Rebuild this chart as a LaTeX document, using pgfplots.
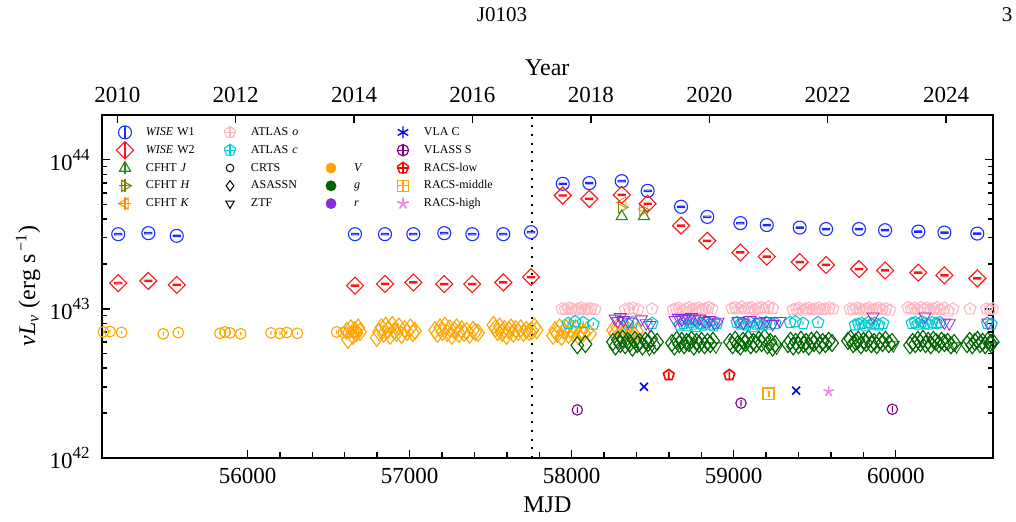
\documentclass[border=0pt]{standalone}
\usepackage{fontspec}
\setmainfont{Liberation Serif}
\usepackage{pgfplots}
\pgfplotsset{compat=1.18}
\usetikzlibrary{plotmarks}

\definecolor{wblue}{RGB}{25,45,255}
\definecolor{wred}{RGB}{255,20,20}
\definecolor{jgreen}{RGB}{30,140,30}
\definecolor{holive}{RGB}{128,128,0}
\definecolor{korange}{RGB}{255,140,0}
\definecolor{opink}{RGB}{255,182,193}
\definecolor{ccyan}{RGB}{0,205,210}
\definecolor{vorange}{RGB}{255,165,0}
\definecolor{gdark}{RGB}{0,100,0}
\definecolor{rpurple}{RGB}{138,43,226}
\definecolor{vlassp}{RGB}{128,0,128}
\definecolor{rviolet}{RGB}{238,130,238}

\newcommand{\pentpath}{%
 \pgfpathmoveto{\pgfpointpolar{90}{\pgfplotmarksize}}%
 \pgfpathlineto{\pgfpointpolar{162}{\pgfplotmarksize}}%
 \pgfpathlineto{\pgfpointpolar{234}{\pgfplotmarksize}}%
 \pgfpathlineto{\pgfpointpolar{306}{\pgfplotmarksize}}%
 \pgfpathlineto{\pgfpointpolar{18}{\pgfplotmarksize}}%
 \pgfpathclose}
\newcommand{\vbar}[1]{%
 \pgfpathmoveto{\pgfqpoint{0pt}{-#1\pgfplotmarksize}}%
 \pgfpathlineto{\pgfqpoint{0pt}{#1\pgfplotmarksize}}}

\pgfdeclareplotmark{wcirc}{%
 \pgfpathcircle{\pgfpointorigin}{\pgfplotmarksize}%
 \pgfpathrectangle{\pgfqpoint{-0.55\pgfplotmarksize}{-0.11\pgfplotmarksize}}{\pgfqpoint{1.1\pgfplotmarksize}{0.22\pgfplotmarksize}}%
 \pgfusepathqstroke}
\pgfdeclareplotmark{wdiam}{%
 \pgfpathmoveto{\pgfqpoint{0pt}{\pgfplotmarksize}}%
 \pgfpathlineto{\pgfqpoint{\pgfplotmarksize}{0pt}}%
 \pgfpathlineto{\pgfqpoint{0pt}{-\pgfplotmarksize}}%
 \pgfpathlineto{\pgfqpoint{-\pgfplotmarksize}{0pt}}%
 \pgfpathclose
 \pgfpathrectangle{\pgfqpoint{-0.42\pgfplotmarksize}{-0.08\pgfplotmarksize}}{\pgfqpoint{0.84\pgfplotmarksize}{0.16\pgfplotmarksize}}%
 \pgfusepathqstroke}
\pgfdeclareplotmark{wdiamo}{%
 \pgfpathmoveto{\pgfqpoint{0pt}{\pgfplotmarksize}}%
 \pgfpathlineto{\pgfqpoint{\pgfplotmarksize}{0pt}}%
 \pgfpathlineto{\pgfqpoint{0pt}{-\pgfplotmarksize}}%
 \pgfpathlineto{\pgfqpoint{-\pgfplotmarksize}{0pt}}%
 \pgfpathclose
 \pgfusepathqstroke}
\pgfdeclareplotmark{circo}{%
 \pgfpathcircle{\pgfpointorigin}{\pgfplotmarksize}%
 \pgfusepathqstroke}
\pgfdeclareplotmark{circdot}{%
 \pgfpathcircle{\pgfpointorigin}{\pgfplotmarksize}\vbar{0.3}%
 \pgfusepathqstroke}
\pgfdeclareplotmark{circv}{%
 \pgfpathcircle{\pgfpointorigin}{\pgfplotmarksize}\vbar{0.6}%
 \pgfusepathqstroke}
\pgfdeclareplotmark{pentp}{\pentpath\vbar{0.3}\pgfusepathqstroke}
\pgfdeclareplotmark{pentv}{\pentpath\vbar{0.6}\pgfusepathqstroke}
\pgfdeclareplotmark{pento}{\pentpath\pgfusepathqstroke}
\pgfdeclareplotmark{squarev}{%
 \pgfpathrectangle{\pgfqpoint{-\pgfplotmarksize}{-\pgfplotmarksize}}{\pgfqpoint{2\pgfplotmarksize}{2\pgfplotmarksize}}%
 \vbar{0.6}\pgfusepathqstroke}

\pgfplotsset{
  legbase/.style={legend image code/.code={%
    \path[draw=none,fill=none] (-5.5pt,-4.45pt) rectangle (5.5pt,4.45pt);
    \draw[overlay,##1] plot coordinates {(0pt,0pt)};}},
  legextra/.style={legend image code/.code={%
    \path[draw=none,fill=none] (-5.5pt,-4.45pt) rectangle (5.5pt,4.45pt);
    \draw[overlay,##1] plot coordinates {(0pt,0pt)};
    \draw[overlay,##1,mark=#1] plot coordinates {(0pt,0pt)};}},
  dat/.style={only marks, forget plot, mark options={solid, line width=0.55pt}},
}

\begin{document}
\begin{tikzpicture}
\useasboundingbox (-50.85pt,-31.5pt) rectangle (457.15pt,229pt);
\node[font=\fontsize{10.5}{12}\selectfont] at (200.15pt,221.5pt) {J0103};
\node[font=\fontsize{10.5}{12}\selectfont] at (452.65pt,221.5pt) {3};

\begin{axis}[
  scale only axis, width=445.65pt, height=171.5pt,
  xmin=55100, xmax=60600, ymode=log, ymin=1e42, ymax=2e44,
  scaled x ticks=false,
  xtick={56000,57000,58000,59000,60000},
  xticklabels={56000,57000,58000,59000,60000},
  minor x tick num=4, xtick pos=left,
  ytick={1e42,1e43,1e44},
  yticklabels={10\raisebox{0.45em}{\fontsize{8.5}{9}\selectfont 42},10\raisebox{0.45em}{\fontsize{8.5}{9}\selectfont 43},10\raisebox{0.45em}{\fontsize{8.5}{9}\selectfont 44}},
  tick align=inside, major tick length=4pt, minor tick length=2.75pt,
  axis line style={line width=1pt},
  every tick/.style={black, line width=0.7pt},
  tick label style={font=\fontsize{11.5}{13}\selectfont},
  xticklabel style={anchor=center, yshift=-9pt},
  yticklabel style={anchor=east, inner sep=0pt, xshift=-5.85pt},
  label style={font=\fontsize{12}{14}\selectfont},
  xlabel={MJD},
  xlabel style={at={(axis description cs:0.5,-0.137)}, anchor=center},
  ylabel={{\itshape ν\kern0.3pt L}\textsubscript{\itshape ν} (erg s\textsuperscript{\,−1})},
  ylabel style={at={(axis description cs:-0.0827,0.5)}, anchor=center},
  legend columns=4,
  legend cell align=left,
  legend style={at={(axis description cs:0,1)}, anchor=north west,
    xshift=6.15pt, yshift=-4.3pt, draw=none, fill=none,
    inner sep=0pt, outer sep=0pt, row sep=0pt, column sep=0pt,
    font=\fontsize{6}{7}\selectfont,
    nodes={draw=none, fill=none, inner sep=1pt, minimum height=8.9pt, text height=4.3pt, text depth=1.3pt, align=left},
    /tikz/every odd column/.append style={column sep=4pt}},
]

% dotted vertical line
\addplot[black, line width=1pt, dash pattern=on 1pt off 3.35pt, forget plot] coordinates {(57754,1e42) (57754,2e44)};

% CRTS V
\addplot[dat, color=vorange, mark=circdot, mark size=2.7pt] coordinates {
(55110,7.0e42) (55151,7.05e42) (55223,6.95e42) (55480,6.8e42) (55573,6.93e42)
(55830,6.85e42) (55861,7.0e42) (55892,6.9e42) (55958,6.8e42)
(56145,6.9e42) (56200,6.85e42) (56242,6.95e42) (56307,6.85e42)
(56550,7.0e42) (56591,6.95e42) (56622,6.9e42) (56653,7.05e42) (56674,7.0e42)};

% ASASSN V
\addplot[dat, color=vorange, mark=diamond, mark size=4.25pt] coordinates {
(56612,7.1e42) (56620,6.2e42) (56638,7.4e42) (56650,6.6e42) (56661,7.2e42) (56672,6.9e42) (56683,7.5e42) (56694,7.0e42)
(56797,6.4e42) (56812,7.0e42) (56826,7.5e42) (56840,6.8e42) (56853,7.7e42) (56866,7.2e42) (56880,6.6e42) (56893,7.8e42)
(56906,7.1e42) (56920,6.9e42) (56934,7.6e42) (56950,6.7e42) (56968,7.3e42) (56985,7.0e42) (57005,7.5e42) (57020,6.9e42) (57033,7.1e42)
(57157,7.2e42) (57172,6.8e42) (57188,7.5e42) (57203,7.0e42) (57218,7.7e42) (57232,6.9e42) (57247,7.4e42) (57261,6.6e42)
(57276,7.2e42) (57290,7.5e42) (57305,6.8e42) (57320,7.3e42) (57336,6.9e42) (57352,7.1e42) (57370,6.7e42) (57390,7.2e42) (57405,7.0e42) (57422,6.9e42)
(57517,7.8e42) (57530,7.4e42) (57543,7.0e42) (57556,7.6e42) (57570,6.9e42) (57584,7.3e42) (57598,6.6e42) (57612,7.2e42)
(57626,7.5e42) (57640,6.8e42) (57655,7.3e42) (57670,7.0e42) (57686,7.4e42) (57702,6.9e42) (57720,7.2e42) (57738,7.0e42) (57755,7.1e42) (57770,7.6e42) (57784,7.2e42)
(57885,6.6e42) (57898,7.2e42) (57911,6.8e42) (57925,7.5e42) (57938,6.5e42) (57952,7.1e42) (57966,7.4e42) (57980,6.7e42)
(57995,7.3e42) (58010,6.9e42) (58025,7.4e42) (58040,6.6e42) (58058,7.1e42) (58075,6.9e42) (58095,7.2e42) (58113,6.8e42)
(58255,7.2e42) (58268,6.8e42) (58282,7.5e42) (58296,6.7e42) (58310,7.1e42) (58325,6.9e42) (58340,7.4e42) (58355,6.8e42) (58372,7.0e42) (58390,6.6e42) (58403,7.1e42)};

% ASASSN g
\addplot[dat, color=gdark, mark=diamond, mark size=4.25pt] coordinates {
(58035,5.7e42) (58085,5.8e42)
(58255,6.0e42) (58270,5.6e42) (58285,6.2e42) (58300,5.8e42) (58315,6.3e42) (58330,5.7e42) (58345,6.1e42) (58360,5.9e42) (58375,5.5e42)
(58390,6.2e42) (58405,5.8e42) (58420,6.0e42) (58437,5.6e42) (58455,6.1e42) (58472,5.9e42) (58490,6.3e42) (58508,5.7e42) (58527,6.0e42)
(58619,5.9e42) (58634,5.6e42) (58649,6.2e42) (58664,5.8e42) (58679,6.1e42) (58694,5.7e42) (58709,6.0e42) (58724,5.9e42) (58739,6.2e42)
(58754,5.6e42) (58770,6.0e42) (58786,5.8e42) (58802,6.1e42) (58820,5.7e42) (58838,6.0e42) (58855,5.8e42) (58872,6.1e42)
(58977,6.0e42) (58993,5.7e42) (59009,6.2e42) (59025,5.8e42) (59041,5.6e42) (59057,6.1e42) (59073,5.9e42) (59089,6.3e42) (59105,5.7e42)
(59121,6.0e42) (59138,5.8e42) (59155,6.2e42) (59172,5.9e42) (59190,6.4e42) (59208,5.7e42) (59226,6.0e42) (59240,5.5e42) (59255,5.8e42)
(59335,5.8e42) (59351,6.1e42) (59367,5.6e42) (59383,6.0e42) (59399,5.7e42) (59415,6.2e42) (59431,5.8e42) (59447,6.0e42) (59463,5.6e42)
(59479,6.1e42) (59495,5.9e42) (59512,6.2e42) (59530,5.7e42) (59548,6.0e42) (59566,5.8e42) (59586,6.1e42) (59607,5.9e42)
(59705,6.1e42) (59721,6.3e42) (59737,5.8e42) (59753,6.0e42) (59769,6.2e42) (59785,5.7e42) (59801,6.1e42) (59817,5.9e42) (59833,6.3e42)
(59849,5.8e42) (59866,6.0e42) (59883,5.7e42) (59900,6.1e42) (59918,5.9e42) (59937,6.2e42) (59957,5.8e42) (59977,6.0e42)
(60088,5.7e42) (60104,6.0e42) (60120,5.8e42) (60136,6.2e42) (60152,5.9e42) (60168,6.3e42) (60184,5.8e42) (60200,6.1e42) (60216,5.7e42)
(60232,6.2e42) (60248,6.0e42) (60265,5.8e42) (60282,6.1e42) (60300,5.9e42) (60320,6.0e42) (60340,5.7e42) (60360,5.9e42)
(60440,5.8e42) (60456,6.1e42) (60472,5.7e42) (60488,6.0e42) (60504,6.2e42) (60520,5.8e42) (60536,6.0e42) (60552,5.7e42) (60568,6.1e42) (60584,5.9e42) (60598,6.0e42)};

% ZTF g
\addplot[dat, color=gdark, mark=triangle, mark size=3.5pt, mark options={rotate=180}] coordinates {
(58480,5.4e42) (58890,5.6e42) (59265,5.5e42) (59985,5.7e42) (60375,5.6e42) (60590,5.6e42)};

% ATLAS o
\addplot[dat, color=opink, mark=pentp, mark size=3.1pt] coordinates {
(57940,1.0e43) (57960,0.99e43) (57980,1.01e43) (58000,1.0e43) (58020,0.98e43) (58040,1.0e43) (58060,1.01e43) (58080,0.99e43) (58100,1.0e43) (58120,1.0e43) (58144,0.99e43)
(58330,0.99e43) (58355,1.0e43) (58380,1.01e43) (58410,0.99e43) (58496,1.0e43)
(58626,0.99e43) (58645,1.0e43) (58665,1.01e43) (58685,0.98e43) (58705,1.0e43) (58725,1.02e43) (58745,0.99e43) (58765,1.0e43) (58785,1.01e43) (58805,0.99e43) (58825,1.0e43) (58845,1.02e43) (58866,1.0e43)
(58989,1.01e43) (59010,1.02e43) (59030,1.0e43) (59050,1.03e43) (59070,1.0e43) (59090,1.01e43) (59110,1.02e43) (59130,0.99e43) (59150,1.01e43) (59170,1.02e43) (59190,1.0e43) (59215,1.03e43) (59242,1.01e43)
(59366,0.99e43) (59386,1.0e43) (59406,1.01e43) (59426,0.98e43) (59446,1.0e43) (59466,1.01e43) (59486,0.99e43) (59506,1.0e43) (59526,1.01e43) (59546,0.99e43) (59566,1.0e43) (59590,1.01e43) (59612,1.0e43)
(59717,1.0e43) (59737,0.99e43) (59757,1.01e43) (59777,1.0e43) (59797,0.98e43) (59817,1.0e43) (59837,1.01e43) (59857,0.99e43) (59877,1.0e43) (59897,1.01e43) (59917,0.99e43) (59940,1.0e43) (59964,0.98e43)
(60075,1.02e43) (60095,1.0e43) (60115,1.01e43) (60135,0.99e43) (60155,1.02e43) (60175,1.0e43) (60195,1.01e43) (60215,0.99e43) (60235,1.0e43) (60255,1.02e43) (60275,0.99e43) (60300,1.01e43) (60325,0.97e43) (60353,1.0e43)
(60458,1.0e43) (60560,1.0e43) (60580,0.99e43) (60598,1.0e43)};

% ATLAS c
\addplot[dat, color=ccyan, mark=pentp, mark size=3.1pt] coordinates {
(57978,8.0e42) (58021,8.2e42) (58071,8.1e42) (58133,7.9e42)
(58347,7.9e42) (58375,8.1e42) (58496,8.0e42)
(58669,7.8e42) (58690,8.0e42) (58710,7.7e42) (58730,8.1e42) (58750,7.9e42) (58770,7.6e42) (58790,8.0e42) (58810,7.8e42) (58830,8.1e42) (58850,7.9e42) (58875,7.7e42) (58897,8.0e42)
(59020,8.1e42) (59040,7.9e42) (59060,8.0e42) (59080,7.8e42) (59100,8.1e42) (59120,7.6e42) (59140,7.9e42) (59160,8.0e42) (59180,7.8e42) (59200,8.1e42) (59230,7.9e42) (59255,8.0e42)
(59348,8.1e42) (59380,8.2e42) (59428,8.0e42) (59520,8.1e42)
(59749,7.8e42) (59770,7.9e42) (59790,8.0e42) (59810,7.7e42) (59830,8.1e42) (59850,7.9e42) (59870,8.0e42) (59895,7.8e42) (59921,8.0e42)
(60100,8.0e42) (60120,8.1e42) (60140,7.9e42) (60160,8.2e42) (60180,8.0e42) (60200,7.9e42) (60225,8.1e42) (60250,8.0e42) (60272,8.1e42)
(60565,8.0e42) (60590,7.9e42)};

% ZTF r
\addplot[dat, color=rpurple, mark=triangle, mark size=3.5pt, mark options={rotate=180}] coordinates {
(58268,8.6e42) (58285,8.3e42) (58300,8.8e42) (58320,8.4e42) (58350,8.2e42) (58430,8.5e42) (58460,8.0e42) (58484,7.8e42)
(58638,8.4e42) (58660,8.7e42) (58680,8.5e42) (58700,8.7e42) (58720,8.6e42) (58740,8.8e42) (58760,8.5e42) (58790,8.6e42) (58820,8.3e42) (58850,8.4e42) (58880,8.0e42) (58903,8.2e42)
(59026,8.3e42) (59060,8.1e42) (59100,8.4e42) (59160,8.2e42) (59200,8.3e42) (59240,7.9e42) (59285,8.3e42)
(59860,8.9e42) (60180,8.9e42) (60300,8.1e42) (60330,8.0e42) (60569,8.1e42)};

% CFHT
\addplot[dat, color=jgreen, mark=triangle, mark size=3.2pt] coordinates {(58309,4.17e43) (58446,4.17e43)};
\addplot[dat, color=holive, mark=triangle, mark size=3.2pt, mark options={rotate=-90}] coordinates {(58309,4.8e43) (58440,4.6e43)};
\addplot[dat, color=korange, mark=triangle, mark size=3.2pt, mark options={rotate=90}] coordinates {(58315,5.17e43) (58450,4.67e43)};

% WISE W1
\addplot[dat, color=wblue, mark=wcirc, mark size=3.25pt] coordinates {
(55202,3.17e43) (55388,3.22e43) (55563,3.09e43) (56663,3.17e43) (56848,3.17e43) (57023,3.17e43) (57214,3.22e43)
(57387,3.17e43) (57578,3.17e43) (57749,3.27e43) (57945,6.90e43) (58109,6.98e43) (58309,7.19e43) (58469,6.19e43)
(58675,4.84e43) (58837,4.14e43) (59041,3.76e43) (59204,3.65e43) (59407,3.51e43) (59570,3.43e43) (59773,3.43e43)
(59934,3.37e43) (60139,3.30e43) (60300,3.25e43) (60503,3.20e43)};

% WISE W2
\addplot[dat, color=wred, mark=wdiam, mark size=4.25pt] coordinates {
(55202,1.488e43) (55388,1.54e43) (55563,1.449e43) (56663,1.432e43) (56848,1.472e43) (57023,1.503e43) (57214,1.465e43)
(57387,1.465e43) (57578,1.503e43) (57749,1.632e43) (57945,5.76e43) (58109,5.47e43) (58309,5.82e43) (58469,5.07e43)
(58675,3.62e43) (58837,2.86e43) (59041,2.39e43) (59204,2.24e43) (59407,2.06e43) (59570,1.97e43) (59773,1.85e43)
(59934,1.81e43) (60139,1.75e43) (60300,1.68e43) (60503,1.60e43)};

% radio
\addplot[dat, color=blue, mark=x, mark size=2.8pt, mark options={line width=0.8pt}] coordinates {(58446,3.0e42) (59385,2.83e42)};
\addplot[dat, color=vlassp, mark=circv, mark size=2.6pt] coordinates {(58035,2.10e42) (59045,2.33e42) (59979,2.12e42)};
\addplot[dat, color=red, mark=pentv, mark size=2.8pt, mark options={line width=0.8pt}] coordinates {(58599,3.6e42) (58973,3.6e42)};
\addplot[dat, color=vorange, mark=squarev, mark size=2.8pt, mark options={line width=0.9pt}] coordinates {(59216,2.69e42)};
\addplot[dat, color=rviolet, mark=star, mark size=2.7pt, mark options={fill=rviolet!60, line width=0.8pt}] coordinates {(59586,2.79e42)};

% ---------- legend ----------
% row 1
\addlegendimage{legextra=|, only marks, color=wblue, mark=circo, mark size=3.25pt, mark options={line width=0.55pt}}
\addlegendentry[text width=35.5pt]{\textit{WISE} W1}
\addlegendimage{legextra=+, only marks, color=opink, mark=pento, mark size=3pt, mark options={line width=0.55pt}}
\addlegendentry[text width=33.5pt]{ATLAS \textit{o}}
\addlegendimage{empty legend}
\addlegendentry[text width=19pt]{}
\addlegendimage{legbase, only marks, color=blue, mark=asterisk, mark size=3pt, mark options={line width=0.7pt}}
\addlegendentry{VLA C}
% row 2
\addlegendimage{legextra=|, only marks, color=wred, mark=wdiamo, mark size=4.3pt, mark options={line width=0.55pt}}
\addlegendentry[text width=35.5pt]{\textit{WISE} W2}
\addlegendimage{legextra=+, only marks, color=ccyan, mark=pento, mark size=3pt, mark options={line width=0.55pt}}
\addlegendentry[text width=33.5pt]{ATLAS \textit{c}}
\addlegendimage{empty legend}
\addlegendentry[text width=19pt]{}
\addlegendimage{legextra=+, only marks, color=vlassp, mark=circo, mark size=2.8pt, mark options={line width=0.6pt}}
\addlegendentry{VLASS S}
% row 3
\addlegendimage{legextra=|, only marks, color=jgreen, mark=triangle, mark size=3.2pt, mark options={line width=0.55pt}}
\addlegendentry[text width=35.5pt]{CFHT \textit{J}}
\addlegendimage{legbase, only marks, color=black, mark=circo, mark size=1.9pt, mark options={line width=0.5pt}}
\addlegendentry[text width=33.5pt]{CRTS}
\addlegendimage{legbase, only marks, color=vorange, mark=*, mark size=2.5pt}
\addlegendentry[text width=19pt]{\hspace{1pt}\textit{V}}
\addlegendimage{legextra=+, only marks, color=red, mark=pento, mark size=2.9pt, mark options={line width=0.7pt}}
\addlegendentry{RACS-low}
% row 4
\addlegendimage{legextra=+, only marks, color=holive, mark=triangle, mark size=3.2pt, mark options={rotate=-90, line width=0.55pt}}
\addlegendentry[text width=35.5pt]{CFHT \textit{H}}
\addlegendimage{legbase, only marks, color=black, mark=diamond, mark size=2.6pt, mark options={line width=0.5pt}}
\addlegendentry[text width=33.5pt]{ASASSN}
\addlegendimage{legbase, only marks, color=gdark, mark=*, mark size=2.5pt}
\addlegendentry[text width=19pt]{\hspace{1pt}\textit{g}}
\addlegendimage{legextra=+, only marks, color=vorange, mark=square, mark size=2.8pt, mark options={line width=0.6pt}}
\addlegendentry{RACS-middle}
% row 5
\addlegendimage{legextra=+, only marks, color=korange, mark=triangle, mark size=3.2pt, mark options={rotate=90, line width=0.55pt}}
\addlegendentry[text width=35.5pt]{CFHT \textit{K}}
\addlegendimage{legbase, only marks, color=black, mark=triangle, mark size=2.4pt, mark options={rotate=180, line width=0.5pt}}
\addlegendentry[text width=33.5pt]{ZTF}
\addlegendimage{legbase, only marks, color=rpurple, mark=*, mark size=2.5pt}
\addlegendentry[text width=19pt]{\hspace{1pt}\textit{r}}
\addlegendimage{legbase, only marks, color=rviolet, mark=star, mark size=3pt, mark options={fill=rviolet!60, line width=0.8pt}}
\addlegendentry{RACS-high}
\end{axis}

\begin{axis}[
  scale only axis, width=445.65pt, height=171.5pt,
  xmin=55100, xmax=60600, ymin=0, ymax=1,
  scaled x ticks=false,
  axis x line*=top, axis y line=none,
  xtick={55197,55927,56658,57388,58119,58849,59580,60310},
  xticklabels={2010,2012,2014,2016,2018,2020,2022,2024},
  xtick align=inside, major tick length=4pt,
  axis line style={line width=1pt},
  every tick/.style={black, line width=0.7pt},
  tick label style={font=\fontsize{11.5}{13}\selectfont},
  xticklabel style={anchor=center, yshift=10pt},
  label style={font=\fontsize{12}{14}\selectfont},
  xlabel={Year},
  xlabel style={at={(axis description cs:0.5,1.137)}, anchor=center},
]
\end{axis}
\end{tikzpicture}
\end{document}
